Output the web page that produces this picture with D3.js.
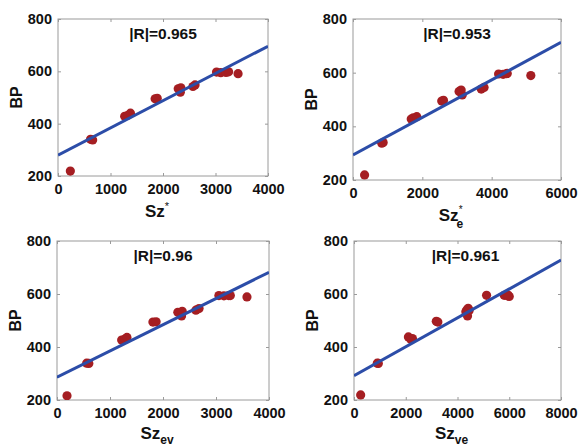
<!DOCTYPE html>
<html>
<head>
<meta charset="utf-8">
<script src="https://cdn.jsdelivr.net/npm/d3@7"></script>
<style>
html, body { margin: 0; padding: 0; background: #fff; }
svg { display: block; font-family: "Liberation Sans", Arial, sans-serif; font-weight: bold; }
</style>
</head>
<body>
<svg id="chart" width="579" height="446"></svg>
<script>
// ---- data ----
const szStar   = [235, 620, 660, 1270, 1330, 1380, 1850, 1890, 2290, 2330, 2340, 2570, 2610, 3020, 3100, 3200, 3250, 3430];
const bpStar   = [219, 340, 338, 428, 432, 440, 495, 497, 533, 520, 537, 542, 548, 597, 595, 596, 598, 591];
const szEStar  = [334, 830, 870, 1680, 1740, 1840, 2560, 2610, 3060, 3150, 3120, 3700, 3780, 4200, 4330, 4420, 4450, 5130];
const bpEStar  = [219, 337, 340, 427, 432, 436, 494, 497, 530, 517, 535, 539, 545, 595, 594, 596, 597, 589];
const szEv     = [189, 560, 600, 1220, 1280, 1320, 1810, 1870, 2280, 2350, 2362, 2620, 2680, 3055, 3150, 3240, 3270, 3584];
const bpEv     = [216, 339, 338, 426, 430, 436, 494, 495, 531, 517, 535, 539, 545, 594, 593, 594, 594, 589];
const szVe     = [258, 900, 940, 2103, 2258, 2200, 3180, 3240, 4323, 4387, 4360, 4413, 4450, 5123, 5806, 5935, 6000, 5950];
const bpVe     = [219, 339, 338, 438, 432, 428, 497, 494, 533, 517, 540, 546, 538, 595, 595, 593, 591, 596];

const xMax      = [4000, 6000, 4000, 8000];
const xTicks    = [[0, 1000, 2000, 3000, 4000], [0, 2000, 4000, 6000], [0, 1000, 2000, 3000, 4000], [0, 2000, 4000, 6000, 8000]];
const yTicks    = [200, 400, 600, 800];
const fitStart  = [280, 293, 286, 292];   // fitted BP at x = 0
const fitEnd    = [696, 713, 682, 728];   // fitted BP at x = xMax
const rLabels   = ["|R|=0.965", "|R|=0.953", "|R|=0.96", "|R|=0.961"];
const yLabel    = "BP";

// ---- layout ----
const boxes = [
  {x0: 58,  x1: 268, y0: 19,  y1: 176, rdx: 0},
  {x0: 353, x1: 561, y0: 19,  y1: 180, rdx: 0},
  {x0: 57,  x1: 269, y0: 241, y1: 400, rdx: 0},
  {x0: 354, x1: 561, y0: 241, y1: 400, rdx: 8}
];
const xsArr = [szStar, szEStar, szEv, szVe];
const ysArr = [bpStar, bpEStar, bpEv, bpVe];

const svg = d3.select("#chart");
const dotColor = "#A51E22";
const lineColor = "#2C4DA8";
const boxColor = "#9a9a9a";

boxes.forEach((b, i) => {
  const x = d3.scaleLinear().domain([0, xMax[i]]).range([b.x0, b.x1]);
  const y = d3.scaleLinear().domain([200, 800]).range([b.y1, b.y0]);
  const g = svg.append("g");
  const clipId = "clip" + i;
  svg.append("clipPath").attr("id", clipId).append("rect")
    .attr("x", b.x0).attr("y", b.y0).attr("width", b.x1 - b.x0).attr("height", b.y1 - b.y0);

  // axes (ticks inward, no domain)
  const xa = g.append("g").attr("transform", `translate(0,${b.y1})`)
    .call(d3.axisBottom(x).tickValues(xTicks[i]).tickSize(-3).tickPadding(8).tickFormat(d3.format("d")));
  const ya = g.append("g").attr("transform", `translate(${b.x0},0)`)
    .call(d3.axisLeft(y).tickValues(yTicks).tickSize(-3).tickPadding(6).tickFormat(d3.format("d")));
  const xt = g.append("g").attr("transform", `translate(0,${b.y0})`)
    .call(d3.axisTop(x).tickValues(xTicks[i]).tickSize(-3).tickFormat(""));
  const yr = g.append("g").attr("transform", `translate(${b.x1},0)`)
    .call(d3.axisRight(y).tickValues(yTicks).tickSize(-3).tickFormat(""));
  [xa, ya, xt, yr].forEach(a => {
    a.select(".domain").remove();
    a.selectAll(".tick line").attr("stroke", boxColor);
  });
  [xa, ya].forEach(a => a.selectAll(".tick text")
    .attr("fill", "#111").style("font-size", "14.5px").style("font-weight", "bold")
    .style("font-family", '"Liberation Sans", Arial, sans-serif'));
  xa.selectAll(".tick text").attr("dy", "0.71em");

  // box
  g.append("rect").attr("x", b.x0).attr("y", b.y0)
    .attr("width", b.x1 - b.x0).attr("height", b.y1 - b.y0)
    .attr("fill", "none").attr("stroke", boxColor).attr("stroke-width", 1);

  // points
  const pts = xsArr[i].map((v, k) => [v, ysArr[i][k]]);
  g.append("g").attr("clip-path", `url(#${clipId})`)
    .selectAll("circle").data(pts).join("circle")
    .attr("cx", d => x(d[0])).attr("cy", d => y(d[1])).attr("r", 4.6)
    .attr("fill", dotColor);

  // fit line
  const line = d3.line().x(d => x(d[0])).y(d => y(d[1]));
  g.append("path").attr("clip-path", `url(#${clipId})`)
    .datum([[0, fitStart[i]], [xMax[i], fitEnd[i]]])
    .attr("d", line).attr("fill", "none").attr("stroke", lineColor).attr("stroke-width", 3);

  // R label
  g.append("text").attr("x", (b.x0 + b.x1) / 2 + b.rdx).attr("y", b.y0 + 19.5)
    .attr("text-anchor", "middle").style("font-size", "15.5px").attr("fill", "#111")
    .text(rLabels[i]);

  // y label
  g.append("text")
    .attr("transform", `translate(${b.x0 - 36},${(b.y0 + b.y1) / 2}) rotate(-90)`)
    .attr("text-anchor", "middle").style("font-size", "16px").attr("fill", "#111")
    .text(yLabel);

  // x label
  const xl = g.append("text").attr("x", (b.x0 + b.x1) / 2 - 6).attr("y", b.y1 + (i >= 2 ? 39 : 41))
    .attr("text-anchor", "middle").style("font-size", "17px").attr("fill", "#111");
  xl.append("tspan").text("Sz");
  if (i === 0) {
    xl.append("tspan").attr("dy", -7).style("font-size", "11px").style("font-weight", "normal").text("*");
  } else if (i === 1) {
    xl.append("tspan").attr("dy", -8).style("font-size", "10px").style("font-weight", "normal").text("*");
    xl.append("tspan").attr("dx", -6).attr("dy", 15).style("font-size", "12px").text("e");
  } else {
    xl.append("tspan").attr("dy", 5).style("font-size", "12px").text(i === 2 ? "ev" : "ve");
  }
});
</script>
</body>
</html>
